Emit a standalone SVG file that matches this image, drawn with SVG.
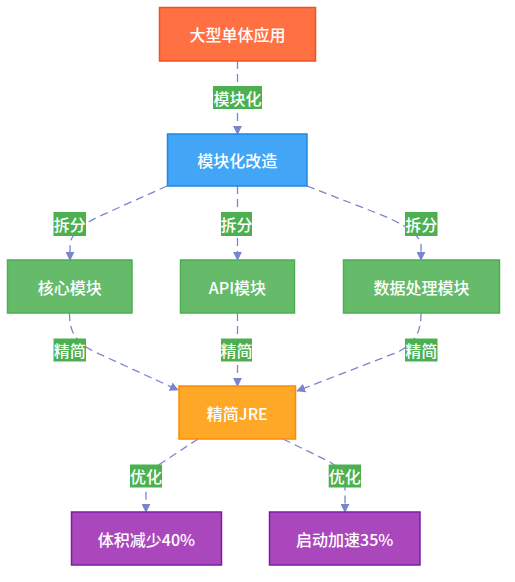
<svg xmlns="http://www.w3.org/2000/svg" width="515" height="582" viewBox="0 0 515 582">
<defs>
<marker id="arr" viewBox="0 0 10 10" refX="9" refY="5" markerWidth="9" markerHeight="9" markerUnits="userSpaceOnUse" orient="auto">
<path d="M0,0 L10,5 L0,10 z" fill="#7986CB"/>
</marker>
<style>
.n rect{stroke-width:1.5}
.t{font-family:"Noto Sans CJK SC","Noto Sans",sans-serif;font-size:16px;font-weight:500;fill:#fff;text-anchor:middle;dominant-baseline:central}
.lt{font-family:"Noto Sans CJK SC","Noto Sans",sans-serif;font-size:16px;font-weight:500;fill:#fff;text-anchor:middle;dominant-baseline:central}
.e{fill:none;stroke:#7986CB;stroke-width:1.3;stroke-dasharray:8,5;marker-end:url(#arr)}
.lb{fill:#4CAF50}
.red{fill:#FF7043;stroke:#F4511E}
.blue{fill:#42A5F5;stroke:#1E88E5}
.green{fill:#66BB6A;stroke:#4CAF50}
.orange{fill:#FFA726;stroke:#FB8C00}
.purple{fill:#AB47BC;stroke:#7B1FA2}
</style>
</defs>
<rect width="515" height="582" fill="#fff"/>
<g id="edges">
<path class="e" d="M237.5,61 L237.5,134"/>
<path class="e" d="M167,186 L100,216 Q70,230 70,246 L70,260"/>
<path class="e" d="M237.5,186 L237.5,260"/>
<path class="e" d="M307,186 L374,212 Q421,230 421,246 L421,260"/>
<path class="e" d="M69.5,313 C69.5,330 74,342 95,352 L178,390"/>
<path class="e" d="M237.5,313 L237.5,386"/>
<path class="e" d="M421,313 C421,330 417,342 398,352 L297,391"/>
<path class="e" d="M198,439 L160,464 Q146,474 146,490 L146,512"/>
<path class="e" d="M283,439 L330,462 Q345,471 345,490 L345,512"/>
</g>
<g id="edge-labels">
<g><rect class="lb" x="213" y="86" width="49" height="23"/><text class="lt" x="237.5" y="97.5">模块化</text></g>
<g><rect class="lb" x="53.5" y="212" width="32.5" height="24"/><text class="lt" x="69.7" y="224">拆分</text></g>
<g><rect class="lb" x="221" y="212" width="31" height="24"/><text class="lt" x="236.5" y="224">拆分</text></g>
<g><rect class="lb" x="405" y="212" width="32.5" height="24"/><text class="lt" x="421.2" y="224">拆分</text></g>
<g><rect class="lb" x="53.5" y="338.5" width="32.5" height="23"/><text class="lt" x="69.7" y="350">精简</text></g>
<g><rect class="lb" x="221" y="338.5" width="31" height="23"/><text class="lt" x="236.5" y="350">精简</text></g>
<g><rect class="lb" x="405" y="338.5" width="32.5" height="23"/><text class="lt" x="421.2" y="350">精简</text></g>
<g><rect class="lb" x="130" y="464.5" width="32" height="23"/><text class="lt" x="146" y="476">优化</text></g>
<g><rect class="lb" x="328.7" y="464.5" width="32.3" height="23"/><text class="lt" x="344.8" y="476">优化</text></g>
</g>
<g id="n1" class="n"><rect class="red" x="159.5" y="7.5" width="156" height="53.5"/><text class="t" x="237.5" y="34">大型单体应用</text></g>
<g id="n2" class="n"><rect class="blue" x="167.5" y="134" width="139.5" height="52"/><text class="t" x="237.2" y="160">模块化改造</text></g>
<g id="n3" class="n"><rect class="green" x="7.5" y="260" width="124.5" height="53"/><text class="t" x="69.7" y="286.5">核心模块</text></g>
<g id="n4" class="n"><rect class="green" x="180.5" y="260" width="114" height="53"/><text class="t" x="237.5" y="286.5">API模块</text></g>
<g id="n5" class="n"><rect class="green" x="343.5" y="260" width="156" height="53"/><text class="t" x="421.5" y="286.5">数据处理模块</text></g>
<g id="n6" class="n"><rect class="orange" x="179" y="386" width="116.5" height="53"/><text class="t" x="237.3" y="412.5">精简JRE</text></g>
<g id="n7" class="n"><rect class="purple" x="71.5" y="512" width="150" height="53"/><text class="t" x="146.5" y="538.5">体积减少40%</text></g>
<g id="n8" class="n"><rect class="purple" x="269.5" y="512" width="150.5" height="53"/><text class="t" x="344.7" y="538.5">启动加速35%</text></g>
</svg>
